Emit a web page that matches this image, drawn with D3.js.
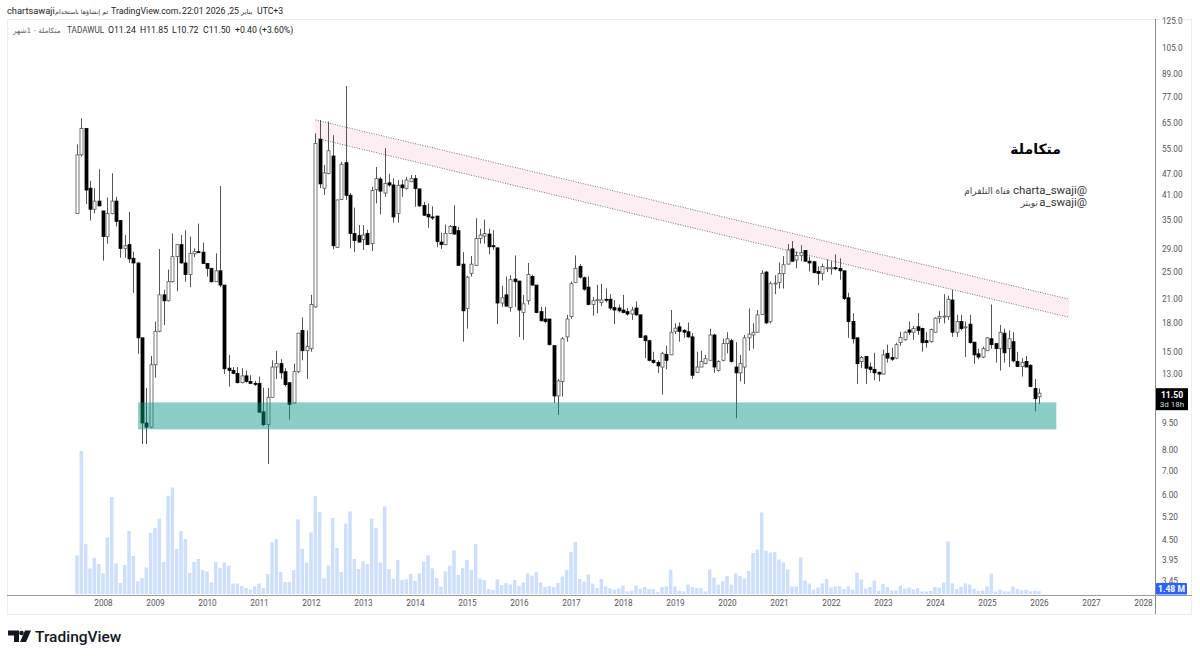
<!DOCTYPE html>
<html>
<head>
<meta charset="utf-8">
<script src="https://cdn.jsdelivr.net/npm/d3@7"></script>
<style>
  html, body { margin: 0; padding: 0; background: #fff; }
  text { font-family: Roboto, "DejaVu Sans", sans-serif; }
  .ar { font-family: "DejaVu Sans", sans-serif; }
</style>
</head>
<body>
<svg id="chart" width="1200" height="658"></svg>
<script>
// monthly bars, Jul 2007 to Jan 2026, one line per calendar year
const opens = [
  36.4,53.0,62.8,42.8,37.4,39.4,
  37.0,31.4,36.4,39.4,34.8,29.1,29.8,27.3,26.5,16.4,9.5,9.25,
  13.8,17.1,21.6,20.8,23.5,27.6,29.8,26.5,24.6,28.1,28.5,28.4,
  26.4,25.6,23.5,25.2,23.0,13.5,13.3,13.05,12.3,12.85,12.4,12.25,
  12.25,10.2,9.4,11.2,13.6,13.9,13.2,12.3,10.8,13.2,17.2,15.1,
  15.3,20.0,58.6,42.8,47.0,52.6,29.3,39.8,50.4,40.9,32.0,31.6,
  30.8,32.0,30.0,42.4,45.4,41.5,44.3,43.7,36.4,43.7,42.7,44.6,
  45.5,42.6,38.3,36.2,35.6,35.8,30.3,29.8,32.0,33.5,32.6,26.3,
  19.8,24.8,26.1,31.0,31.5,31.9,29.6,29.2,20.5,21.6,19.9,23.9,
  23.6,19.3,20.8,24.3,23.0,19.4,18.5,18.5,15.6,11.3,12.4,16.5,
  18.8,23.4,25.9,24.1,22.7,20.3,20.85,20.55,21.0,21.0,19.9,19.85,
  19.6,19.4,19.1,19.85,19.0,16.6,16.1,14.2,14.0,13.6,14.75,14.7,
  17.1,17.6,17.2,17.05,16.5,13.15,13.6,13.9,14.2,16.7,13.3,14.2,
  15.8,16.1,13.6,13.1,13.6,16.4,16.7,17.0,19.05,25.0,18.2,23.2,
  23.4,24.75,26.3,29.0,27.0,27.8,28.7,26.8,26.7,25.1,24.8,25.7,
  25.7,25.7,25.6,25.2,21.2,18.2,16.4,14.1,14.55,13.6,13.4,13.15,
  13.0,14.85,14.45,14.4,15.9,16.2,17.25,17.0,17.6,17.4,16.1,16.0,
  17.0,18.6,18.8,18.8,20.9,17.0,18.2,17.5,17.9,15.95,14.8,14.5,
  15.1,16.3,15.8,15.3,16.9,15.3,16.0,14.1,13.65,14.1,13.75,11.85,
  11.24];
const highs = [
  56.7,67.0,62.8,44.9,42.8,48.3,
  37.0,40.3,47.1,40.5,34.8,31.7,36.8,28.5,26.6,16.4,11.9,14.6,
  18.2,29.0,22.3,25.4,32.0,29.8,31.7,32.7,31.4,29.1,34.1,30.2,
  26.5,25.7,28.2,43.4,23.0,14.7,13.6,13.6,13.5,13.3,12.9,12.45,
  12.8,11.9,11.9,14.2,15.1,14.3,13.5,12.3,13.9,16.9,18.7,17.2,
  21.6,60.8,66.3,49.7,65.6,60.1,39.7,50.7,82.4,41.5,37.8,33.8,
  33.8,32.8,43.2,49.0,46.0,55.3,46.9,45.6,45.1,45.1,46.0,46.6,
  46.6,42.6,39.2,38.8,38.1,35.8,32.2,33.9,33.8,38.4,33.4,28.4,
  24.4,27.7,35.3,33.0,35.0,33.0,32.7,29.2,22.9,24.3,24.5,27.8,
  23.6,21.6,26.5,24.6,23.0,20.0,20.0,18.5,15.6,12.6,16.5,19.0,
  23.5,27.8,26.3,24.3,24.3,21.3,23.05,23.2,22.5,21.7,20.9,20.3,
  21.6,19.85,20.0,20.7,19.0,16.7,16.2,15.0,14.2,15.0,15.6,19.6,
  18.0,18.1,17.35,18.1,16.9,15.0,15.1,14.7,17.4,16.85,14.2,16.3,
  17.0,16.3,15.95,14.7,16.7,19.8,18.0,19.6,25.3,25.2,23.5,24.5,
  26.6,27.7,29.9,30.5,28.5,29.7,28.8,27.6,26.8,25.9,26.4,27.1,
  26.8,28.0,27.3,25.2,21.9,19.2,16.4,14.6,14.55,14.0,14.9,13.2,
  15.2,15.7,15.4,15.9,17.05,17.1,18.2,17.7,19.2,17.5,17.0,17.4,
  18.7,19.5,21.7,21.5,22.3,19.0,19.0,18.2,19.0,15.95,15.3,15.5,
  16.5,20.3,15.8,17.8,17.4,17.2,17.0,15.0,14.4,14.6,13.85,12.6,
  11.85];
const lows = [
  36.4,52.4,38.7,34.8,36.4,38.2,
  26.9,30.0,36.2,33.5,27.4,27.4,26.5,21.9,14.8,8.3,8.3,9.2,
  12.7,17.0,17.8,20.7,23.4,22.1,26.4,23.5,22.7,27.5,28.3,26.4,
  24.3,23.4,23.5,22.7,13.0,12.0,13.0,12.25,12.25,12.3,12.2,12.05,
  10.2,9.3,7.3,11.2,12.6,12.6,12.0,9.7,10.75,13.1,14.2,12.6,
  15.0,19.9,42.8,41.0,46.8,28.9,29.2,39.7,39.7,29.1,28.4,30.2,
  28.8,29.8,28.6,38.8,36.2,40.5,43.2,34.3,34.3,40.5,42.4,44.5,
  38.0,38.0,35.8,33.2,34.9,29.3,29.0,29.7,31.9,31.7,26.0,16.0,
  17.4,24.3,26.0,30.0,30.0,28.0,28.8,17.9,20.0,20.0,19.4,20.0,
  16.5,16.2,20.3,22.9,19.2,18.2,18.0,15.6,10.8,10.0,11.25,16.0,
  18.5,23.3,24.0,22.2,20.2,18.9,19.2,20.1,20.55,19.6,17.9,19.3,
  19.2,18.9,18.4,18.9,16.4,14.4,14.1,13.9,13.1,11.4,13.4,14.7,
  16.8,16.0,16.4,16.4,12.6,13.1,13.6,13.85,14.2,13.1,13.2,14.1,
  14.85,14.0,9.8,12.4,12.2,15.1,15.3,17.0,19.0,17.9,18.0,21.7,
  22.5,22.5,26.3,26.7,25.6,26.8,26.7,25.1,24.8,23.0,23.7,25.0,
  24.6,25.3,23.8,20.9,16.4,15.8,12.2,13.5,12.2,13.1,12.5,12.4,
  12.95,14.0,14.15,14.3,15.6,16.1,16.7,16.2,16.7,15.0,15.4,15.9,
  17.0,18.0,18.0,18.4,16.5,16.5,17.2,14.5,15.8,13.9,14.3,14.4,
  15.1,15.3,14.0,13.3,14.0,13.6,14.0,13.6,12.8,13.6,11.95,10.24,
  10.72];
const closes = [
  53.0,62.8,42.3,37.4,39.4,38.2,
  31.4,36.4,39.4,34.6,29.1,29.6,27.2,26.5,16.4,9.5,9.25,13.8,
  17.1,21.6,20.8,23.5,27.6,29.8,26.5,24.6,28.2,28.5,28.3,26.4,
  25.6,23.5,25.2,23.0,13.45,13.3,13.05,12.3,12.85,12.4,12.25,12.2,
  10.18,9.4,11.2,13.6,13.9,13.1,12.15,10.7,13.2,16.9,15.1,15.5,
  20.3,57.0,44.0,47.2,54.4,29.6,39.7,49.9,40.9,32.0,30.6,30.3,
  31.7,29.8,42.2,45.5,42.0,44.1,43.7,35.6,43.6,42.9,45.1,45.5,
  42.7,38.2,36.0,35.6,35.4,30.4,29.8,32.0,33.5,31.9,26.1,19.5,
  24.2,26.3,31.0,31.7,32.0,29.4,29.4,20.5,21.2,20.1,23.8,23.5,
  19.6,20.4,24.6,23.0,19.3,18.3,18.2,15.7,11.3,12.45,16.3,18.5,
  23.2,25.6,24.2,22.4,20.3,20.8,20.95,20.9,20.9,19.85,19.6,19.5,
  19.3,19.1,19.6,19.0,16.45,16.1,14.2,14.0,13.7,14.85,14.2,17.0,
  17.45,17.1,17.0,16.5,12.9,13.6,14.1,14.35,16.7,13.6,14.1,15.8,
  16.3,14.1,13.1,13.9,16.4,16.8,17.0,19.0,24.8,18.05,23.2,23.3,
  24.75,26.2,28.8,26.8,27.8,28.3,26.8,26.5,24.9,24.8,25.9,25.7,
  25.7,25.6,25.2,21.1,18.2,16.3,13.9,14.45,13.5,13.4,13.1,13.0,
  14.7,14.4,14.3,15.7,16.45,17.0,17.0,17.4,17.2,15.9,15.9,17.3,
  18.6,18.8,18.85,21.0,17.0,18.2,17.4,17.6,15.9,14.7,14.5,15.3,
  16.4,15.7,15.3,17.0,14.9,16.3,14.15,13.65,14.0,13.6,12.0,11.10,
  11.50];
// volume in millions
const volumes = [
  19.3,71.5,25,12.8,18.2,15,
  10.3,28.3,48.5,15.3,5.5,14.5,31.5,19,6.3,8,13.2,30.5,
  33,37.7,16,49,53.2,22.5,31.5,27.5,10.5,16,17.5,12,
  11.3,5.8,16,13,15.7,14.2,5.2,5.2,4,3,2.3,3.8,
  5.2,3,10,25.8,27.5,11,6,6,12,37.3,22.5,15.7,
  30.8,49,41,7.8,14.2,38,23,11,35.2,41.3,17.5,12.5,
  16.3,15,37.7,33,15.7,43.8,12.5,7.7,17,7,7.3,10,
  6.5,10.3,16.3,19.3,12.8,8,3.7,11.3,14.2,21.8,9.5,13,
  17,12,25,7.7,7,2.5,2,7.3,4.5,5.5,4.8,7,
  4,5.8,10.3,9.2,11,5.8,3.5,4,3.5,5.5,8.8,12,
  21,26,7.5,6.2,9.7,5.2,3,7.5,3.8,2.8,2.2,2.8,
  4.2,1.3,1.7,4.2,2.7,3.5,2.5,2.5,1,3.5,3.8,12.2,
  3.8,1.7,1.3,4.7,3.5,3,3,1.3,12.2,8.2,4.7,6.3,
  9,4.7,10.3,9,7.8,11.5,20.5,22.2,40.8,21.7,20.7,21,
  17.2,15.8,12.2,3.8,3.7,18.3,6.7,5.2,2.2,3.2,5.3,7.5,
  3.2,3.8,4,2.5,3.8,2.2,10.7,7.2,2.7,3.5,6.7,1.7,
  5,3.5,1.7,1.7,4.2,2.7,3.2,2.3,3,1.3,1.3,1.5,
  3.5,3.2,5.7,26.3,5.3,2.5,3.7,5.3,4.7,2.5,1.5,1.8,
  3.8,10.2,1.3,2.2,1.3,1.3,3.8,2.5,1.8,2.2,1.3,1.7,
  1.48];

const yearLabels = [2008,2009,2010,2011,2012,2013,2014,2015,2016,2017,2018,2019,2020,2021,2022,2023,2024,2025,2026,2027,2028];
const priceTicks = [125,105,89,77,65,55,47,41,35,29,25,21,18,15,13,9.5,8,7,6,5.2,4.5,3.95,3.45];
const priceTickLabels = ["125.0","105.0","89.00","77.00","65.00","55.00","47.00","41.00","35.00","29.00","25.00","21.00","18.00","15.00","13.00","9.50","8.00","7.00","6.00","5.20","4.50","3.95","3.45"];

// drawings on the chart, x given as bar number
const channelBars = [55, 229];
const channelUpper = [66.3, 21.0];
const channelLower = [59.0, 18.7];
const zoneBars = [14.1, 226];
const zonePrices = [10.84, 9.12];

const lastPrice = 11.50;
const lastVolume = 1.48;

const bars = closes.map((c, i) => ({i: i, o: opens[i], h: highs[i], l: lows[i], c: c, v: volumes[i]}));
const barOfYear = y => (y - 2007) * 12 - 6;   // January of that year

const svg = d3.select("#chart");
const x = d3.scaleLinear().domain([0, 222]).range([77, 1039]);
const y = d3.scaleLog().domain([125, 3.45]).range([21, 581]);
const yVol = d3.scaleLinear().domain([0, 71.5]).range([594, 451]);

// frame
svg.append("rect").attr("x", 7.5).attr("y", 19.5).attr("width", 1184).attr("height", 595)
  .attr("fill", "#fff").attr("stroke", "#ededed");

// volume
svg.append("g").selectAll("rect").data(bars).enter().append("rect")
  .attr("x", d => x(d.i) - 1.75)
  .attr("width", 3.5)
  .attr("y", d => yVol(d.v))
  .attr("height", d => yVol(0) - yVol(d.v))
  .attr("fill", "#cddffd");

// falling channel
const lineUp = d3.line().x((d, i) => x(channelBars[i])).y(d => y(d));
svg.append("path")
  .attr("d", lineUp(channelUpper) + "L" + x(channelBars[1]) + "," + y(channelLower[1]) + "L" + x(channelBars[0]) + "," + y(channelLower[0]) + "Z")
  .attr("fill", "#fdeef3");
[channelUpper, channelLower].forEach(c => {
  svg.append("path").attr("d", lineUp(c)).attr("fill", "none")
    .attr("stroke", "#777").attr("stroke-width", 1).attr("stroke-dasharray", "1 1.5");
});

// candles
const candles = svg.append("g").selectAll("g").data(bars).enter().append("g");
candles.append("line")
  .attr("x1", d => Math.round(x(d.i)) + 0.5).attr("x2", d => Math.round(x(d.i)) + 0.5)
  .attr("y1", d => y(d.h)).attr("y2", d => y(d.l))
  .attr("stroke", "#555").attr("stroke-width", 1);
candles.append("rect")
  .attr("x", d => Math.round(x(d.i)) - 1)
  .attr("width", 3)
  .attr("y", d => y(Math.max(d.o, d.c)))
  .attr("height", d => Math.max(1, Math.abs(y(d.o) - y(d.c))))
  .attr("fill", d => d.c >= d.o ? "#fff" : "#000")
  .attr("stroke", d => d.c >= d.o ? "#555" : "#000")
  .attr("stroke-width", 0.8);

// support zone goes over the candles
svg.append("rect")
  .attr("x", x(zoneBars[0])).attr("width", x(zoneBars[1]) - x(zoneBars[0]))
  .attr("y", y(zonePrices[0])).attr("height", y(zonePrices[1]) - y(zonePrices[0]))
  .attr("fill", "#089981").attr("fill-opacity", 0.47);

// axes
const yAxis = d3.axisRight(y).tickValues(priceTicks).tickSize(0).tickPadding(6.5)
  .tickFormat((d, i) => priceTickLabels[i]);
const gy = svg.append("g").attr("transform", "translate(1155.5,0)").call(yAxis);
gy.select(".domain").remove();
gy.selectAll("text").attr("font-size", 8.2).attr("fill", "#555").style("font-family", 'Roboto, sans-serif');
svg.append("line").attr("x1", 1155.5).attr("x2", 1155.5).attr("y1", 19).attr("y2", 614).attr("stroke", "#8a8a8a");

const xAxis = d3.axisBottom(x).tickValues(yearLabels.map(barOfYear)).tickSize(0).tickPadding(5)
  .tickFormat((d, i) => yearLabels[i]);
const gx = svg.append("g").attr("transform", "translate(0,595)").call(xAxis);
gx.select(".domain").remove();
gx.selectAll("text").attr("font-size", 8.2).attr("fill", "#555").style("font-family", 'Roboto, sans-serif');
svg.append("line").attr("x1", 7).attr("x2", 1192).attr("y1", 595.5).attr("y2", 595.5).attr("stroke", "#9a9a9a");

// last price and volume flags
svg.append("rect").attr("x", 1156).attr("y", y(lastPrice) - 5).attr("width", 32).attr("height", 22).attr("fill", "#000");
svg.append("text").attr("x", 1172).attr("y", y(lastPrice) + 5).attr("text-anchor", "middle")
  .attr("font-size", 8.6).attr("font-weight", 700).attr("fill", "#fff").text(lastPrice.toFixed(2));
svg.append("text").attr("x", 1172).attr("y", y(lastPrice) + 14).attr("text-anchor", "middle")
  .attr("font-size", 8).attr("fill", "#ddd").text("3d 18h");
svg.append("rect").attr("x", 1156).attr("y", 583).attr("width", 31).attr("height", 11.5).attr("rx", 1).attr("fill", "#2962ff");
svg.append("text").attr("x", 1171.5).attr("y", 592).attr("text-anchor", "middle")
  .attr("font-size", 8.6).attr("font-weight", 700).attr("fill", "#fff").text(lastVolume + " M");

// header lines
function label(px, py, str, size, color, opts) {
  const o = opts || {};
  return svg.append("text").attr("x", px).attr("y", py).attr("font-size", size).attr("fill", color)
    .attr("text-anchor", o.anchor || "start").attr("font-weight", o.weight || 400)
    .attr("class", o.ar ? "ar" : null).text(str);
}
label(7, 14, "chartsawaji", 9.3, "#222");
label(55, 14, "تم إنشاؤها باستخدام", 6.3, "#333", {ar: true});
label(111, 14, "TradingView.com،", 8.8, "#222");
label(182, 14, "22:01 2026 ,25", 8.7, "#222");
label(241, 14, "يناير", 6.6, "#333", {ar: true});
label(257, 14, "UTC+3", 8.7, "#222");

label(13, 33, "متكاملة · 1شهر", 7.3, "#666", {ar: true});
label(67, 33, "TADAWUL", 8.2, "#444");
label(108, 33, "O11.24", 8.7, "#222");
label(140, 33, "H11.85", 8.7, "#222");
label(172, 33, "L10.72", 8.7, "#222");
label(203, 33, "C11.50", 8.7, "#222");
label(235, 33, "+0.40 (+3.60%)", 8.7, "#222");

// notes on the chart
label(1061, 154, "متكاملة", 14, "#000", {ar: true, anchor: "end", weight: 700});
label(1087, 194, "charta_swaji@", 11.4, "#333", {anchor: "end"});
label(1010, 194, "قناة التلقرام", 9, "#444", {ar: true, anchor: "end"});
label(1087, 206, "a_swaji@", 11.4, "#333", {anchor: "end"});
label(1038, 206, "تويتر", 9, "#444", {ar: true, anchor: "end"});

// logo
svg.append("path").attr("fill", "#131722")
  .attr("d", "M8 630.5h11v11.5h-5v-6.5h-6z M25 630.5h6l-5 11.5h-6z");
svg.append("circle").attr("cx", 21.5).attr("cy", 633).attr("r", 2.3).attr("fill", "#131722");
label(35, 641.5, "TradingView", 15.5, "#131722", {weight: 500});
</script>
</body>
</html>
